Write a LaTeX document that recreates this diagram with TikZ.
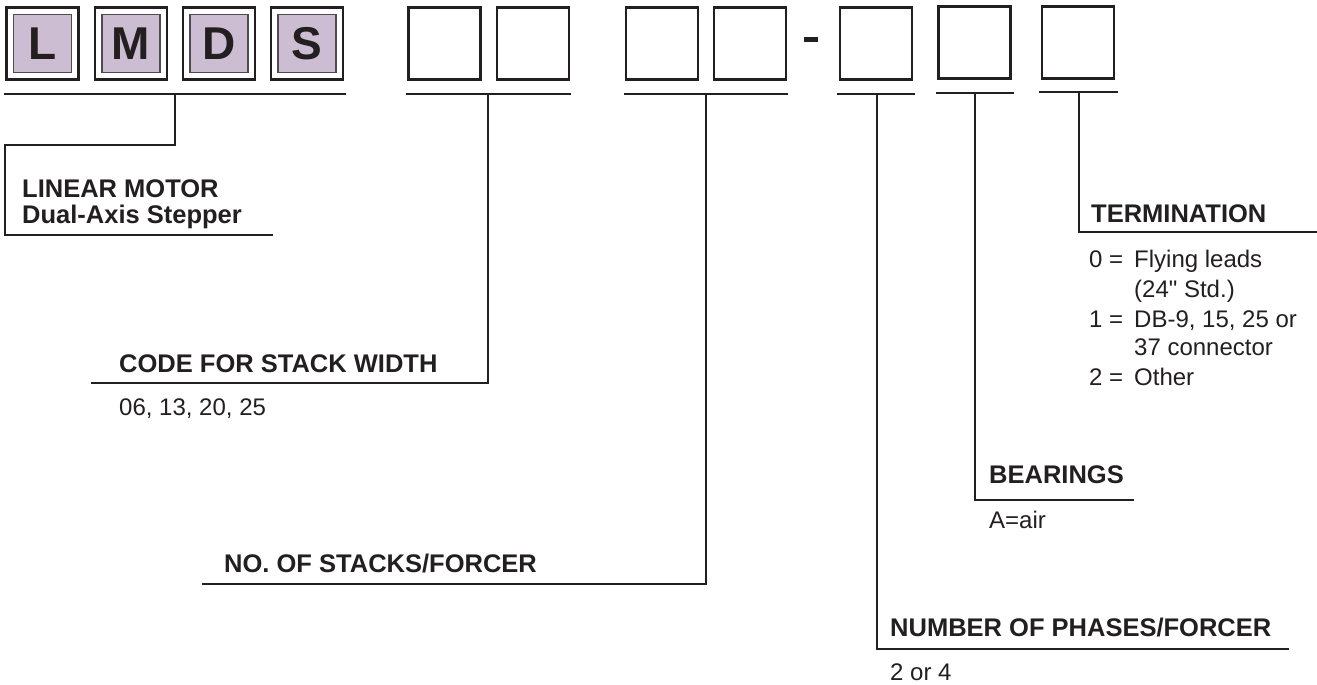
\documentclass[tikz,border=0pt]{standalone}
\usepackage{fontspec}
\setmainfont{Liberation Sans}
\newfontfamily\lsans{Liberation Sans}
\definecolor{ink}{RGB}{35,31,32}
\definecolor{lav}{RGB}{205,189,211}
\tikzset{
  ln/.style={draw=ink, line width=2.6pt, line cap=rect},
  obox/.style={draw=ink, line width=2.6pt, minimum width=72pt, minimum height=72pt, inner sep=0pt},
  ibox/.style={draw=ink!80, fill=lav, line width=1.3pt, minimum width=58pt, minimum height=58pt, inner sep=0pt,
    font=\fontsize{46}{50}\selectfont\bfseries, text=ink},
  lbl/.style={anchor=base west, inner sep=0pt, text=ink, font=\fontsize{25.5}{30}\selectfont\bfseries},
  sub/.style={anchor=base west, inner sep=0pt, text=ink, font=\fontsize{24}{29}\selectfont},
}
\begin{document}
\begin{tikzpicture}[x=1pt, y=-1pt]
\useasboundingbox (0,0) rectangle (1317,685);
% LMDS boxes
\node[obox] (bL) at (42.5,43.5) {}; \node[ibox] (iL) at (bL) {L};
\node[obox] (bM) at (131,43.5) {};  \node[ibox] (iM) at (bM) {M};
\node[obox] (bD) at (219,43.5) {};  \node[ibox] (iD) at (bD) {D};
\node[obox] (bS) at (307,43.5) {};  \node[ibox] (iS) at (bS) {S};
% empty boxes
\node[obox] (b5) at (444.5,43.5) {};
\node[obox] (b6) at (533,43.5) {};
\node[obox] (b7) at (662,43.5) {};
\node[obox] (b8) at (750,43.5) {};
\node[obox] (b9) at (876,43.5) {};
\node[obox] (b10) at (974.5,42.5) {};
\node[obox] (b11) at (1078,42.5) {};
% dash
\node[fill=ink, minimum width=14pt, minimum height=5pt, inner sep=0pt] (dash) at (811,39.5) {};
% underlines
\coordinate (u1a) at (5,94);    \coordinate (u1b) at (345,94);
\coordinate (u2a) at (407,94);  \coordinate (u2b) at (570,94);
\coordinate (u3a) at (625,94);  \coordinate (u3b) at (787,94);
\coordinate (u4a) at (838,94);  \coordinate (u4b) at (914,94);
\coordinate (u5a) at (937,93);  \coordinate (u5b) at (1013,93);
\coordinate (u6a) at (1040,92); \coordinate (u6b) at (1117,92);
\draw[ln] (u1a) -- (u1b);
\draw[ln] (u2a) -- (u2b);
\draw[ln] (u3a) -- (u3b);
\draw[ln] (u4a) -- (u4b);
\draw[ln] (u5a) -- (u5b);
\draw[ln] (u6a) -- (u6b);
% tick points
\coordinate (t1) at (175,94);
\coordinate (t2) at (488,94);
\coordinate (t3) at (706,94);
\coordinate (t4) at (877,94);
\coordinate (t5) at (975,93);
\coordinate (t6) at (1079,92);
% leader ends
\coordinate (k1) at (5,145);
\coordinate (e1) at (272,235);
\coordinate (e2) at (92,383);
\coordinate (e3) at (203,584);
\coordinate (e4) at (1288,649);
\coordinate (e5) at (1133,500);
\coordinate (e6) at (1317,232);
% leaders
\draw[ln] (t1) |- (k1) |- (e1);
\draw[ln] (t2) |- (e2);
\draw[ln] (t3) |- (e3);
\draw[ln] (t4) |- (e4);
\draw[ln] (t5) |- (e5);
\draw[ln] (t6) |- (e6);
% labels
\node[lbl] (l1a) at (22,197) {LINEAR MOTOR};
\node[lbl] (l1b) at (22,223) {Dual-Axis Stepper};
\node[lbl] (l2) at (119,372) {CODE FOR STACK WIDTH};
\node[sub] (s2) at (119,415) {06, 13, 20, 25};
\node[lbl] (l3) at (224,572) {NO. OF STACKS/FORCER};
\node[lbl] (l4) at (890,636) {NUMBER OF PHASES/FORCER};
\node[sub] (s4) at (890,680) {2 or 4};
\node[lbl] (l5) at (989,483) {BEARINGS};
\node[sub] (s5) at (989,528) {A=air};
\node[lbl] (l6) at (1091,222) {TERMINATION};
\node[sub] (s6a) at (1089,267) {0 =};
\node[sub] (s6b) at (1134,267) {Flying leads};
\node[sub] (s6c) at (1134,297) {\lsans (24" Std.)};
\node[sub] (s6d) at (1089,327) {1 =};
\node[sub] (s6e) at (1134,327) {DB-9, 15, 25 or};
\node[sub] (s6f) at (1134,355) {37 connector};
\node[sub] (s6g) at (1089,385) {2 =};
\node[sub] (s6h) at (1134,385) {Other};
\end{tikzpicture}
\end{document}
